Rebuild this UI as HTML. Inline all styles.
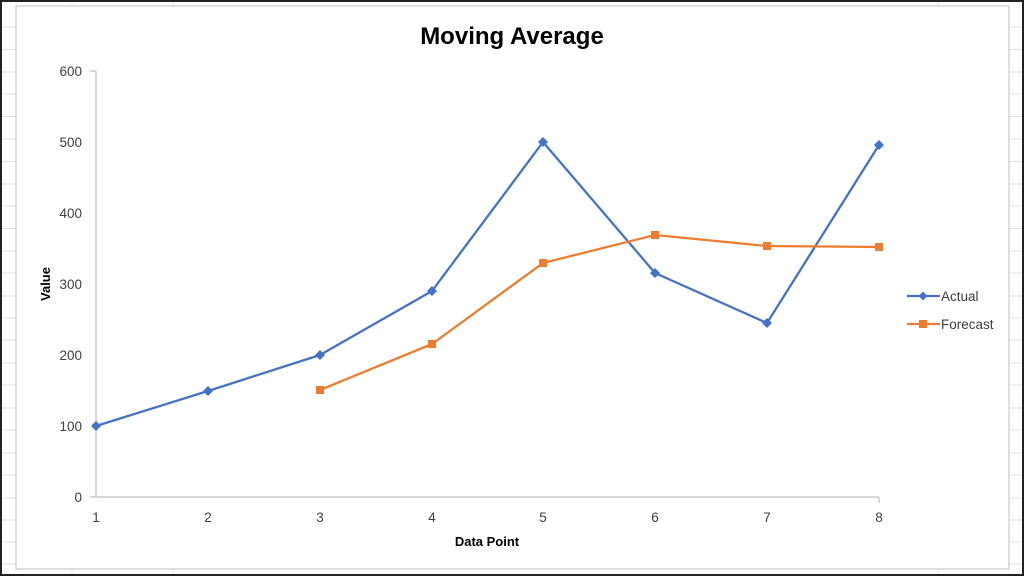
<!DOCTYPE html>
<html><head><meta charset="utf-8"><style>
html,body{margin:0;padding:0;background:#fff}
svg{display:block}
text{font-family:"Liberation Sans",Calibri,sans-serif}
</style></head><body>
<svg width="1024" height="576" viewBox="0 0 1024 576" xmlns="http://www.w3.org/2000/svg">
<rect width="1024" height="576" fill="#fff"/>
<g stroke="#e0e0e0" stroke-width="1">
<line x1="0" y1="27" x2="1024" y2="27"/><line x1="0" y1="49.5" x2="1024" y2="49.5"/>
<line x1="0" y1="72" x2="1024" y2="72"/><line x1="0" y1="94" x2="1024" y2="94"/>
<line x1="0" y1="116.5" x2="1024" y2="116.5"/><line x1="0" y1="139" x2="1024" y2="139"/>
<line x1="0" y1="161.5" x2="1024" y2="161.5"/><line x1="0" y1="184" x2="1024" y2="184"/>
<line x1="0" y1="206" x2="1024" y2="206"/><line x1="0" y1="228.5" x2="1024" y2="228.5"/>
<line x1="0" y1="251" x2="1024" y2="251"/><line x1="0" y1="273" x2="1024" y2="273"/>
<line x1="0" y1="296" x2="1024" y2="296"/><line x1="0" y1="318" x2="1024" y2="318"/>
<line x1="0" y1="340" x2="1024" y2="340"/><line x1="0" y1="363" x2="1024" y2="363"/>
<line x1="0" y1="385" x2="1024" y2="385"/><line x1="0" y1="408" x2="1024" y2="408"/>
<line x1="0" y1="430" x2="1024" y2="430"/><line x1="0" y1="453" x2="1024" y2="453"/>
<line x1="0" y1="475" x2="1024" y2="475"/><line x1="0" y1="498" x2="1024" y2="498"/>
<line x1="0" y1="520" x2="1024" y2="520"/><line x1="0" y1="542" x2="1024" y2="542"/>
<line x1="0" y1="564" x2="1024" y2="564"/>
<line x1="72" y1="0" x2="72" y2="576"/><line x1="173" y1="0" x2="173" y2="576"/>
<line x1="938" y1="0" x2="938" y2="576"/>
</g>
<rect x="16" y="6" width="993" height="563" fill="#fff" stroke="#bfbfbf" stroke-width="1"/>
<rect x="1" y="1" width="1022" height="574" fill="none" stroke="#222" stroke-width="2"/>
<text x="512" y="44" text-anchor="middle" font-size="24" font-weight="bold" fill="#000">Moving Average</text>
<g stroke="#bfbfbf" stroke-width="1.3" fill="none">
<line x1="96" y1="71" x2="96" y2="497"/>
<line x1="90" y1="71" x2="96" y2="71"/>
<line x1="90" y1="497" x2="879" y2="497"/>
<line x1="879" y1="497" x2="879" y2="503"/>
</g>
<g font-size="13.5" fill="#404040" text-anchor="end">
<text x="82" y="76">600</text><text x="82" y="147">500</text><text x="82" y="218">400</text>
<text x="82" y="289">300</text><text x="82" y="360">200</text><text x="82" y="431">100</text>
<text x="82" y="502">0</text>
</g>
<g font-size="13.5" fill="#404040" text-anchor="middle">
<text x="96" y="522">1</text><text x="208" y="522">2</text><text x="320" y="522">3</text>
<text x="432" y="522">4</text><text x="543" y="522">5</text><text x="655" y="522">6</text>
<text x="767" y="522">7</text><text x="879" y="522">8</text>
</g>
<text x="487" y="546" text-anchor="middle" font-size="13" font-weight="bold" fill="#000">Data Point</text>
<text transform="translate(50,284) rotate(-90)" text-anchor="middle" font-size="13" font-weight="bold" fill="#000">Value</text>
<polyline fill="none" stroke="#4472c4" stroke-width="2.3" stroke-linejoin="round" points="96,426 208,391 320,355 432,291 543,142 655,273 767,323 879,145"/>
<g fill="#4472c4">
<path d="M96,421l5,5l-5,5l-5,-5z"/><path d="M208,386l5,5l-5,5l-5,-5z"/><path d="M320,350l5,5l-5,5l-5,-5z"/>
<path d="M432,286l5,5l-5,5l-5,-5z"/><path d="M543,137l5,5l-5,5l-5,-5z"/><path d="M655,268l5,5l-5,5l-5,-5z"/>
<path d="M767,318l5,5l-5,5l-5,-5z"/><path d="M879,140l5,5l-5,5l-5,-5z"/>
</g>
<polyline fill="none" stroke="#ed7d31" stroke-width="2.3" stroke-linejoin="round" points="320,390 432,344 543,263 655,235 767,246 879,247"/>
<g fill="#ed7d31">
<rect x="316" y="386" width="8" height="8"/><rect x="428" y="340" width="8" height="8"/>
<rect x="539" y="259" width="8" height="8"/><rect x="651" y="231" width="8" height="8"/>
<rect x="763" y="242" width="8" height="8"/><rect x="875" y="243" width="8" height="8"/>
</g>
<line x1="907" y1="296" x2="940" y2="296" stroke="#4472c4" stroke-width="2.3"/>
<path d="M923,291.5l4.5,4.5l-4.5,4.5l-4.5,-4.5z" fill="#4472c4"/>
<text x="941" y="301" font-size="13.5" fill="#404040">Actual</text>
<line x1="907" y1="324" x2="940" y2="324" stroke="#ed7d31" stroke-width="2.3"/>
<rect x="919" y="320" width="8" height="8" fill="#ed7d31"/>
<text x="941" y="329" font-size="13.5" fill="#404040">Forecast</text>
</svg>
</body></html>
